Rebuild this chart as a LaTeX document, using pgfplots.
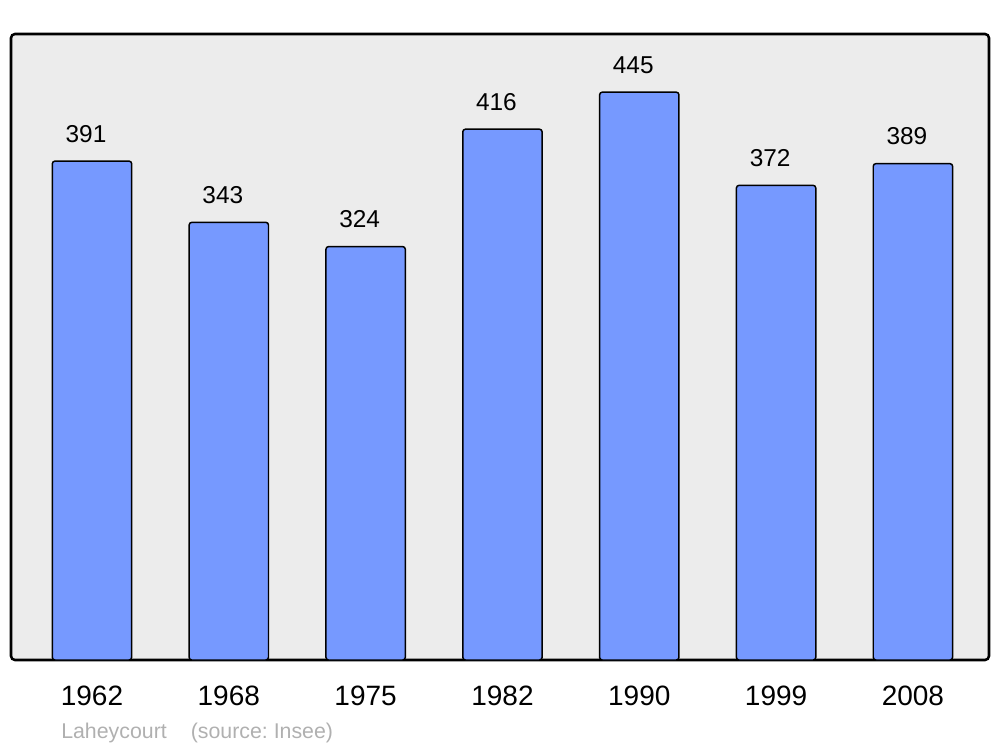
\documentclass[border=0pt]{standalone}
\usepackage{fontspec}
\setmainfont{Liberation Sans}
\usepackage{pgfplots}
\pgfplotsset{compat=1.18}
\definecolor{barblue}{RGB}{118,153,255}
\definecolor{bggray}{RGB}{236,236,236}
\definecolor{srcgray}{RGB}{176,176,176}
\begin{document}
\begin{tikzpicture}[x=0.75pt,y=0.75pt]
\path[use as bounding box] (0,0) rectangle (1000,747);
\begin{axis}[
  at={(8.25pt,65.25pt)}, anchor=south west,
  scale only axis, width=733.5pt, height=469.5pt,
  xmin=-0.592, xmax=6.556, ymin=0, ymax=490.6,
  axis line style={draw=none},
  axis background/.style={fill=bggray, draw=black, line width=1.9pt, rounded corners=3pt},
  ytick=\empty,
  xtick={0,1,2,3,4,5,6},
  xticklabels={1962,1968,1975,1982,1990,1999,2008},
  major tick length=0pt,
  xticklabel style={font=\fontsize{21}{21}\selectfont, anchor=base, inner sep=0pt, yshift=-33.75pt},
  /pgf/number format/assume math mode=true,
  ybar, bar width=0.58,
  nodes near coords,
  every node near coord/.append style={font=\fontsize{18.3}{18.3}\selectfont, anchor=south, inner sep=0pt, yshift=13.5pt, xshift=-4.5pt},
  clip=false,
]
\addplot[fill=barblue, draw=black, line width=1.1pt, rounded corners=2pt] coordinates {
 (0,391) (1,343) (2,324) (3,416) (4,445) (5,372) (6,389)};
\end{axis}
\node[anchor=base west, inner sep=0pt, text=srcgray, font=\fontsize{16}{16}\selectfont] at (61,9) {Laheycourt\hspace{18pt}(source:~Insee)};
\end{tikzpicture}
\end{document}
